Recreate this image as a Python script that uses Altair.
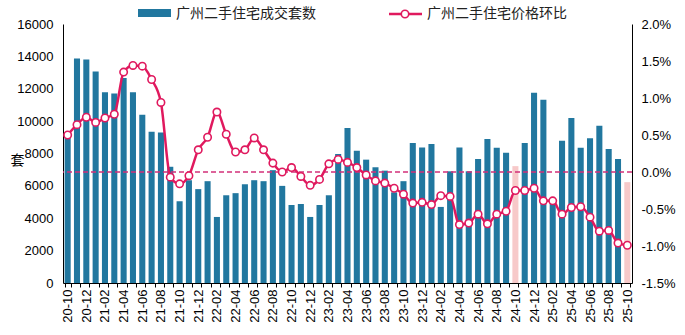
import json
import altair as alt
import pandas as pd

months = [
    "20-10", "20-11", "20-12", "21-01", "21-02", "21-03", "21-04", "21-05", "21-06", "21-07",
    "21-08", "21-09", "21-10", "21-11", "21-12", "22-01", "22-02", "22-03", "22-04", "22-05",
    "22-06", "22-07", "22-08", "22-09", "22-10", "22-11", "22-12", "23-01", "23-02", "23-03",
    "23-04", "23-05", "23-06", "23-07", "23-08", "23-09", "23-10", "23-11", "23-12", "24-01",
    "24-02", "24-03", "24-04", "24-05", "24-06", "24-07", "24-08", "24-09", "24-10", "24-11",
    "24-12", "25-01", "25-02", "25-03", "25-04", "25-05", "25-06", "25-07", "25-08", "25-09",
    "25-10",
]
sales = [
    9100, 13870, 13800, 13060, 11780, 11700, 12670, 11780, 10390, 9350,
    9290, 7180, 5050, 6350, 5800, 6290, 4080, 5420, 5550, 6100,
    6350, 6290, 6970, 6000, 4820, 4880, 4080, 4820, 5420, 7970,
    9580, 8170, 7620, 7150, 6940, 5600, 6290, 8650, 8370, 8590,
    4700, 6900, 8370, 6900, 7660, 8900, 8360, 8050, 7220, 8650,
    11760, 11320, 4900, 8780, 10200, 8360, 8940, 9710, 8280, 7660,
    6230,
]
mom = [
    0.50, 0.64, 0.74, 0.67, 0.73, 0.78, 1.35, 1.44, 1.43, 1.25,
    0.94, -0.07, -0.16, -0.05, 0.30, 0.47, 0.81, 0.51, 0.27, 0.30,
    0.46, 0.30, 0.12, 0.00, 0.06, -0.06, -0.18, -0.10, 0.11, 0.17,
    0.13, 0.06, -0.04, -0.12, -0.15, -0.22, -0.30, -0.42, -0.41, -0.44,
    -0.32, -0.33, -0.71, -0.69, -0.57, -0.70, -0.57, -0.53, -0.25, -0.25,
    -0.22, -0.39, -0.39, -0.57, -0.48, -0.47, -0.61, -0.80, -0.79, -0.96,
    -0.99,
]
highlight_months = ["24-10", "25-10"]
label_months = months[::2]
left_ticks = [0, 2000, 4000, 6000, 8000, 10000, 12000, 14000, 16000]
right_ticks = [-1.5, -1.0, -0.5, 0.0, 0.5, 1.0, 1.5, 2.0]
series_bar = "广州二手住宅成交套数"
series_line = "广州二手住宅价格环比"
y_title = "套"

BLUE = "#21779F"
PINK_BAR = "#F7C9C9"
LINE = "#E0195E"
DASH = "#D2307A"
NUM_FONT = "Liberation Sans"
CJK_FONT = "Noto Sans CJK SC"

df = pd.DataFrame({"month": months, "sales": sales, "mom": mom})
df["grp"] = ["hl" if m in highlight_months else "normal" for m in months]

label_expr = "indexof(" + json.dumps(label_months) + ", datum.label) >= 0 ? datum.label : ''"

x_enc = alt.X(
    "month:N",
    sort=months,
    title=None,
    scale=alt.Scale(paddingInner=0.35, paddingOuter=0.175),
    axis=alt.Axis(
        labelAngle=270,
        labelExpr=label_expr,
        labelOverlap=False,
        tickBand="extent",
        tickSize=4,
        tickColor="#000",
        domainColor="#000",
        labelColor="#000",
        labelFont=NUM_FONT,
        labelFontSize=13,
        labelPadding=2,
        grid=False,
    ),
)

bars = alt.Chart(df).mark_bar().encode(
    x=x_enc,
    y=alt.Y(
        "sales:Q",
        scale=alt.Scale(domain=[0, 16000], nice=False),
        axis=alt.Axis(
            orient="left",
            values=left_ticks,
            format="d",
            ticks=False,
            grid=False,
            domainColor="#000",
            labelColor="#000",
            labelFont=NUM_FONT,
            labelFontSize=13,
            labelPadding=10,
            title=y_title,
            titleAngle=0,
            titleX=-46,
            titleY=136,
            titleAlign="center",
            titleBaseline="middle",
            titleFont=CJK_FONT,
            titleFontSize=14,
            titleFontWeight="normal",
            titleColor="#000",
        ),
    ),
    color=alt.Color(
        "grp:N",
        scale=alt.Scale(domain=["normal", "hl"], range=[BLUE, PINK_BAR]),
        legend=None,
    ),
)

right_scale = alt.Scale(domain=[-1.5, 2.0], nice=False)
right_axis = alt.Axis(
    orient="right",
    values=right_ticks,
    labelExpr="(datum.value < 0 ? '-' : '') + format(abs(datum.value), '.1f') + '%'",
    ticks=False,
    grid=False,
    domainColor="#000",
    labelColor="#000",
    labelFont=NUM_FONT,
    labelFontSize=13,
    labelPadding=9,
    title=None,
)

zero_df = pd.DataFrame({"v": [0.0]})
rule = alt.Chart(zero_df).mark_rule(color=DASH, strokeDash=[5, 3], strokeWidth=1.4).encode(
    y=alt.Y("v:Q", scale=right_scale, axis=right_axis)
)
line = alt.Chart(df).mark_line(color=LINE, strokeWidth=2.5, interpolate="monotone").encode(
    x=x_enc,
    y=alt.Y("mom:Q", scale=right_scale, axis=right_axis),
)
points = alt.Chart(df).mark_point(
    shape="circle", filled=True, fill="white", stroke=LINE, strokeWidth=1.6, size=55, opacity=1
).encode(
    x=x_enc,
    y=alt.Y("mom:Q", scale=right_scale, axis=right_axis),
)
right_layer = alt.layer(rule, line, points)

one = pd.DataFrame({"k": [0]})
leg_rect = alt.Chart(one).mark_rect(color=BLUE).encode(
    x=alt.value(75), x2=alt.value(108), y=alt.value(-15), y2=alt.value(-7)
)
leg_text1 = alt.Chart(one).mark_text(
    align="left", baseline="middle", font=CJK_FONT, fontSize=14, color="#222"
).encode(x=alt.value(113), y=alt.value(-10), text=alt.value(series_bar))
leg_line = alt.Chart(one).mark_rule(color=LINE, strokeWidth=2.5).encode(
    x=alt.value(326), x2=alt.value(359), y=alt.value(-10)
)
leg_pt = alt.Chart(one).mark_point(
    shape="circle", filled=True, fill="white", stroke=LINE, strokeWidth=1.6, size=55, opacity=1
).encode(x=alt.value(342), y=alt.value(-10))
leg_text2 = alt.Chart(one).mark_text(
    align="left", baseline="middle", font=CJK_FONT, fontSize=14, color="#222"
).encode(x=alt.value(364), y=alt.value(-10), text=alt.value(series_line))

chart = (
    alt.layer(bars, right_layer, leg_rect, leg_text1, leg_line, leg_pt, leg_text2)
    .resolve_scale(y="independent")
    .properties(
        width=569,
        height=259,
        padding={"left": 63, "top": 24, "right": 53, "bottom": 52},
        autosize=alt.AutoSizeParams(type="none"),
        background="white",
    )
    .configure_view(stroke=None)
)

chart.save("out.html", embed_options={"renderer": "svg", "actions": False})
